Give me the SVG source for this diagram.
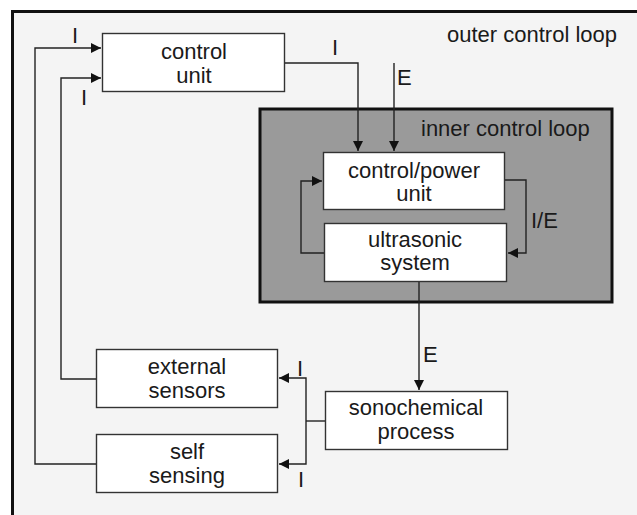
<svg xmlns="http://www.w3.org/2000/svg" width="637" height="515" viewBox="0 0 637 515">
<defs>
<style>
.box{fill:#fff;stroke:#333;stroke-width:1.4}
.t{font-family:"Liberation Sans",Arial,sans-serif;font-size:22px;fill:#1a1a1a;text-anchor:middle}
.l{font-family:"Liberation Sans",Arial,sans-serif;font-size:22px;fill:#1a1a1a}
.c{fill:none;stroke:#222;stroke-width:1.4}
</style>
<marker id="ah" viewBox="0 0 10 10" refX="10" refY="5" markerWidth="11" markerHeight="10" markerUnits="userSpaceOnUse" orient="auto">
<path d="M0,0 L10,5 L0,10 Z" fill="#111"/>
</marker>
</defs>
<rect x="0" y="0" width="637" height="515" fill="#fff"/>
<rect id="outer" x="12.5" y="11.5" width="640" height="520" fill="#f4f4f4" stroke="#111" stroke-width="3"/>
<text class="l" x="447" y="42">outer control loop</text>
<g id="inner-loop">
<rect x="260" y="109" width="352" height="193" fill="#9a9a9a" stroke="#111" stroke-width="3"/>
<text class="l" x="421" y="136">inner control loop</text>
</g>
<g id="connectors">
<polyline class="c" points="285,63 358,63 358,151" marker-end="url(#ah)"/>
<polyline class="c" points="394,63 394,151" marker-end="url(#ah)"/>
<polyline class="c" points="324,253 301,253 301,181 322,181" marker-end="url(#ah)"/>
<polyline class="c" points="505,180 526,180 526,253 508,253" marker-end="url(#ah)"/>
<polyline class="c" points="419,282 419,390" marker-end="url(#ah)"/>
<polyline class="c" points="325,421 306,421"/>
<polyline class="c" points="306,421 306,378 279,378" marker-end="url(#ah)"/>
<polyline class="c" points="306,421 306,464 279,464" marker-end="url(#ah)"/>
<polyline class="c" points="96,379 61,379 61,78 101,78" marker-end="url(#ah)"/>
<polyline class="c" points="96,464 35,464 35,48 101,48" marker-end="url(#ah)"/>
<text class="l" x="72" y="43">I</text>
<text class="l" x="81" y="105">I</text>
<text class="l" x="332" y="55">I</text>
<text class="l" x="397" y="85">E</text>
<text class="l" x="531" y="228">I/E</text>
<text class="l" x="423" y="362">E</text>
<text class="l" x="297" y="376">I</text>
<text class="l" x="298" y="487">I</text>
</g>
<g id="control-unit">
<rect class="box" x="102.5" y="33.5" width="182" height="58"/>
<text class="t" x="194" y="59">control</text>
<text class="t" x="194" y="83">unit</text>
</g>
<g id="control-power-unit">
<rect class="box" x="323.5" y="152.5" width="181" height="57"/>
<text class="t" x="414" y="178">control/power</text>
<text class="t" x="414" y="201">unit</text>
</g>
<g id="ultrasonic-system">
<rect class="box" x="324.5" y="223.5" width="182" height="58"/>
<text class="t" x="415" y="247">ultrasonic</text>
<text class="t" x="415" y="270">system</text>
</g>
<g id="external-sensors">
<rect class="box" x="96.5" y="349.5" width="181" height="58"/>
<text class="t" x="187" y="374">external</text>
<text class="t" x="187" y="398">sensors</text>
</g>
<g id="self-sensing">
<rect class="box" x="96.5" y="434.5" width="181" height="58"/>
<text class="t" x="187" y="459">self</text>
<text class="t" x="187" y="483">sensing</text>
</g>
<g id="sonochemical-process">
<rect class="box" x="325.5" y="391.5" width="182" height="58"/>
<text class="t" x="416" y="415">sonochemical</text>
<text class="t" x="416" y="439">process</text>
</g>
</svg>
